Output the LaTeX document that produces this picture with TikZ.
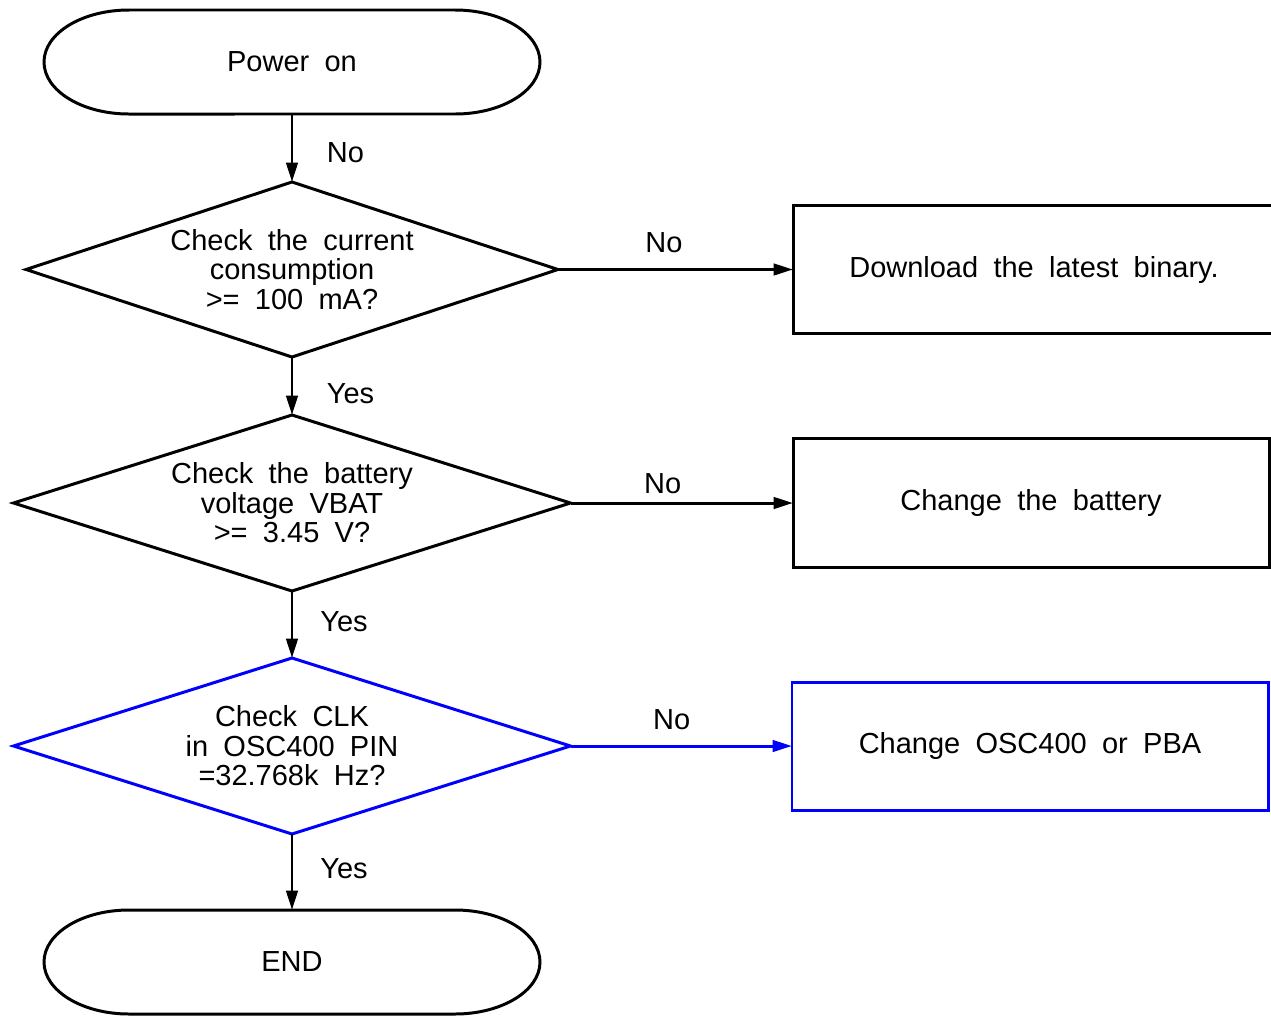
\documentclass[tikz,border=0pt]{standalone}
\usepackage{fontspec}
\setmainfont{Liberation Sans}[WordSpace=1.9]
\usepackage{xcolor}
\usetikzlibrary{positioning,shapes.geometric,arrows.meta}

\newcommand\drawterm[1]{%
  \draw ([xshift=1.7cm]#1.north west) -- ([xshift=-1.7cm]#1.north east)
    arc[start angle=90, end angle=-90, x radius=1.7cm, y radius=1.04cm]
    -- ([xshift=1.7cm]#1.south west)
    arc[start angle=270, end angle=90, x radius=1.7cm, y radius=1.04cm] -- cycle;}

\begin{document}
\begin{tikzpicture}[%
    ->,
    >={Triangle[length=11pt,width=6.5pt]},
    line width=1.7pt,
    font=\fontsize{16.5}{16.8}\selectfont,
    term/.style={%
      minimum width=9.92cm,
      minimum height=2.08cm,
      outer sep=0pt
    },
    cond/.style={%
      diamond,
      aspect=3,
      draw,
      align=center,
      inner sep=0pt,
      outer sep=0pt,
      minimum width=11.14cm,
      minimum height=3.52cm
    },
    act/.style={%
      rectangle,
      draw,
      inner sep=0pt,
      outer sep=0pt,
      minimum width=9.52cm,
      minimum height=2.58cm
    }
  ]
    \useasboundingbox (0,0) rectangle (25.42,-20.34);

    \node[term] (on) at (5.84,-1.24)                                  {Power on};
    \node[cond] (curr) [minimum width=10.64cm,minimum height=3.5cm,
                        below=1.36cm of on]     {Check the current\\consumption\\>= 100 mA?};
    \node[cond] (vbat) [below=1.16cm of curr]     {Check the battery\\voltage VBAT\\>= 3.45 V?};
    \node[cond,blue] (clk) [text=black,below=1.34cm of vbat] {Check CLK\\in OSC400 PIN\\=32.768k Hz?};
    \node[term] (done) [below=1.52cm of clk]                         {END};

    \node[act] (bin) [minimum width=9.64cm,minimum height=2.56cm,
                      right=4.7cm of curr]   {Download the latest binary.};
    \node[act] (batt) [right=4.45cm of vbat]   {Change the battery};
    \node[act,blue] (osc) [text=black,minimum height=2.56cm,
                           right=4.43cm of clk] {Change OSC400 or PBA};

    \drawterm{on}
    \drawterm{done}

    \path (on)   edge node[right=0.55cm,yshift=-0.1cm]  {No}  (curr)
          (curr) edge node[right=0.55cm,yshift=-0.16cm] {Yes} (vbat)
          (vbat) edge node[right=0.42cm,yshift=0.05cm]  {Yes} (clk)
          (clk)  edge node[right=0.42cm,yshift=0.06cm]  {Yes} (done)
          (curr) edge node[above=0.18cm,xshift=-0.23cm] {No}  (bin)
          (vbat) edge node[above=0.04cm,xshift=-0.38cm] {No}  (batt)
          (clk)  edge [blue] node[above=0.18cm,xshift=-0.19cm,black] {No} (osc)
          ;
\end{tikzpicture}
\end{document}
